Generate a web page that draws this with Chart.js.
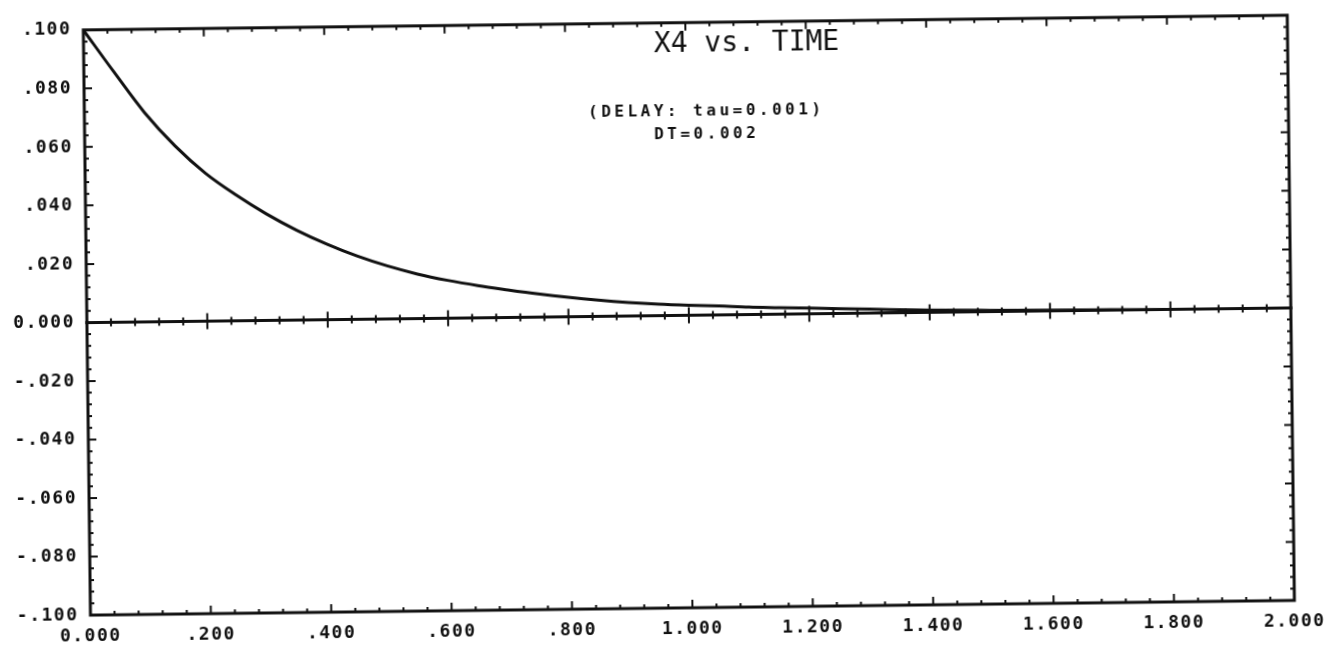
<!DOCTYPE html>
<html>
<head>
<meta charset="utf-8">
<title>X4 vs. TIME</title>
<script src="https://cdn.jsdelivr.net/npm/chart.js@4.4.1/dist/chart.umd.min.js"></script>
<style>
  html, body { margin: 0; padding: 0; background: #ffffff; overflow: hidden; }
  #sheet { width: 1343px; height: 653px; transform: rotate(-0.7deg); transform-origin: 50% 50%; }
  canvas { display: block; }
</style>
</head>
<body>
<div id="sheet"><canvas id="plot" width="1343" height="653"></canvas></div>
<script>
// Simulation output: X4 response over time
const timeValues = [0.00, 0.05, 0.10, 0.15, 0.20, 0.25, 0.30, 0.35, 0.40, 0.45,
                    0.50, 0.55, 0.60, 0.65, 0.70, 0.75, 0.80, 0.85, 0.90, 0.95,
                    1.00, 1.05, 1.10, 1.15, 1.20, 1.30, 1.40, 1.50, 1.60, 1.70,
                    1.80, 1.90, 2.00];
const x4Values   = [0.1000, 0.0855, 0.0715, 0.0600, 0.0505, 0.0430, 0.0364, 0.0307, 0.0258, 0.0216,
                    0.0181, 0.0152, 0.0129, 0.0110, 0.0094, 0.0079, 0.0066, 0.0055, 0.0046, 0.0039,
                    0.0034, 0.0030, 0.0025, 0.0022, 0.0019, 0.0013, 0.0007, 0.0004, 0.0002, 0.0001,
                    0.0000, 0.0000, 0.0000];

// Axis tick values and their printed labels
const xTickValues = [0.0, 0.2, 0.4, 0.6, 0.8, 1.0, 1.2, 1.4, 1.6, 1.8, 2.0];
const xTickLabels = ['0.000', '.200', '.400', '.600', '.800', '1.000', '1.200', '1.400', '1.600', '1.800', '2.000'];
const yTickValues = [-0.10, -0.08, -0.06, -0.04, -0.02, 0.00, 0.02, 0.04, 0.06, 0.08, 0.10];
const yTickLabels = ['-.100', '-.080', '-.060', '-.040', '-.020', '0.000', '.020', '.040', '.060', '.080', '.100'];

// Chart annotation text
const titleText = 'X4 vs. TIME';
const noteLines = ['(DELAY: tau=0.001)', 'DT=0.002'];

const INK = '#111111';
const MONO = '"DejaVu Sans Mono", "Liberation Mono", monospace';

// Plotter-style frame: boxed border, zero axis and inward tick marks
const plotterFrame = {
  id: 'plotterFrame',
  beforeDraw(chart) {
    chart.ctx.letterSpacing = '1.5px';
  },
  afterDatasetsDraw(chart) {
    const ctx = chart.ctx;
    const xs = chart.scales.x, ys = chart.scales.y;
    const { left, right, top, bottom } = chart.chartArea;
    const y0 = ys.getPixelForValue(0);
    ctx.save();
    ctx.strokeStyle = INK;
    ctx.lineCap = 'square';

    // border and zero line
    ctx.lineWidth = 3;
    ctx.strokeRect(left, top, right - left, bottom - top);
    ctx.beginPath();
    ctx.moveTo(left, y0);
    ctx.lineTo(right, y0);
    ctx.stroke();

    // tick marks
    ctx.lineWidth = 2;
    ctx.lineCap = 'butt';
    ctx.beginPath();
    const xMin = xs.min, xMax = xs.max, xMinor = 0.04;
    const nX = Math.round((xMax - xMin) / xMinor);
    for (let i = 1; i < nX; i++) {
      const px = xs.getPixelForValue(xMin + i * xMinor);
      const len = (i % 5 === 0) ? 8 : 4;
      ctx.moveTo(px, top); ctx.lineTo(px, top + len);
      ctx.moveTo(px, bottom); ctx.lineTo(px, bottom - len);
      ctx.moveTo(px, y0 - len); ctx.lineTo(px, y0 + len);
    }
    const yMin = ys.min, yMax = ys.max, yMinor = 0.004;
    const nY = Math.round((yMax - yMin) / yMinor);
    for (let i = 1; i < nY; i++) {
      const py = ys.getPixelForValue(yMin + i * yMinor);
      const len = (i % 5 === 0) ? 8 : 4;
      ctx.moveTo(left, py); ctx.lineTo(left + len, py);
      ctx.moveTo(right, py); ctx.lineTo(right - len, py);
    }
    ctx.stroke();
    ctx.restore();
  },
  afterDraw(chart) {
    const ctx = chart.ctx;
    ctx.save();
    ctx.fillStyle = INK;
    ctx.textAlign = 'center';
    ctx.textBaseline = 'middle';

    ctx.letterSpacing = '0px';
    ctx.font = '28px ' + MONO;
    ctx.fillText(titleText, 750, 45);

    ctx.letterSpacing = '3.5px';
    ctx.font = 'bold 16px ' + MONO;
    ctx.fillText(noteLines[0], 709, 112);
    ctx.fillText(noteLines[1], 709, 135);
    ctx.restore();
  }
};

new Chart(document.getElementById('plot'), {
  type: 'line',
  data: {
    datasets: [{
      label: 'X4',
      data: timeValues.map((t, i) => ({ x: t, y: x4Values[i] })),
      borderColor: INK,
      borderWidth: 3,
      pointRadius: 0,
      cubicInterpolationMode: 'monotone',
      fill: false
    }]
  },
  options: {
    responsive: false,
    animation: false,
    devicePixelRatio: 1,
    layout: { padding: { left: 0, right: 52, top: 13, bottom: 0 } },
    plugins: {
      legend: { display: false },
      title: { display: false },
      tooltip: { enabled: false }
    },
    scales: {
      x: {
        type: 'linear',
        min: 0,
        max: 2,
        afterBuildTicks(scale) { scale.ticks = xTickValues.map(v => ({ value: v })); },
        afterFit(scale) { scale.height = 45; },
        grid: { display: false, drawTicks: false },
        border: { display: false },
        ticks: {
          padding: 11,
          maxRotation: 0,
          autoSkip: false,
          color: INK,
          font: { family: MONO, size: 18, weight: 'bold' },
          callback: (value, index) => xTickLabels[index]
        }
      },
      y: {
        type: 'linear',
        min: -0.1,
        max: 0.1,
        afterBuildTicks(scale) { scale.ticks = yTickValues.map(v => ({ value: v })); },
        afterFit(scale) { scale.width = 87; },
        grid: { display: false, drawTicks: false },
        border: { display: false },
        ticks: {
          padding: 12,
          autoSkip: false,
          color: INK,
          font: { family: MONO, size: 18, weight: 'bold' },
          callback: (value, index) => yTickLabels[index]
        }
      }
    }
  },
  plugins: [plotterFrame]
});
</script>
</body>
</html>
